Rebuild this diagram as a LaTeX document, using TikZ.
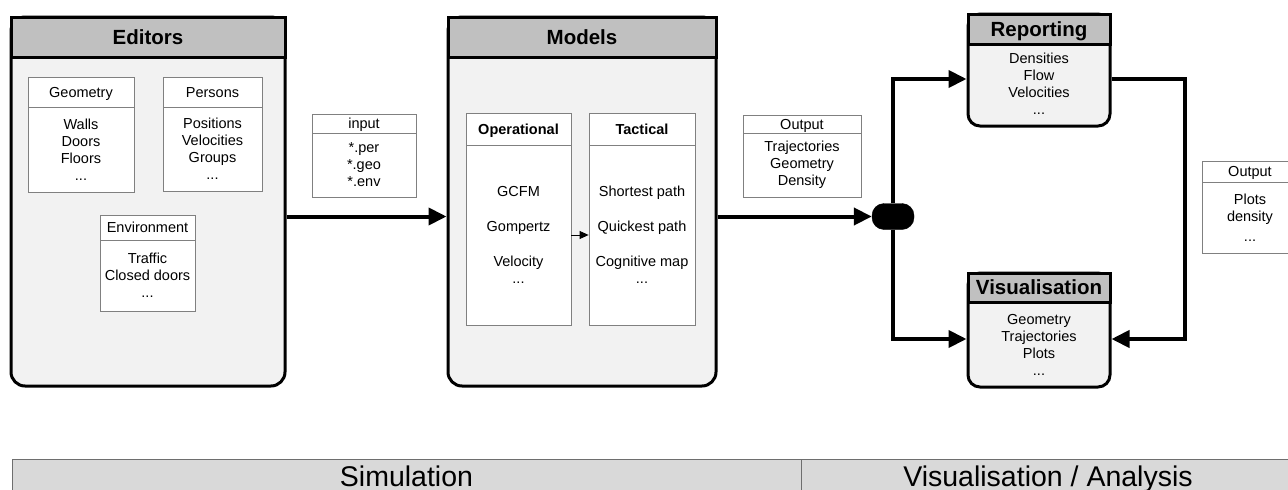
\documentclass[tikz,border=0pt]{standalone}
\usepackage{fontspec}
\setmainfont{Liberation Sans}
\usetikzlibrary{arrows.meta}
\definecolor{hdrfill}{HTML}{C0C0C0}
\definecolor{bodyfill}{HTML}{F2F2F2}
\definecolor{boxgray}{HTML}{808080}
\definecolor{barfill}{HTML}{D9D9D9}
\definecolor{barline}{HTML}{6E6E6E}
\tikzset{
  bigbox/.style={draw=black, line width=3pt, fill=bodyfill, rounded corners=14pt, inner sep=0pt},
  smallbig/.style={draw=black, line width=3pt, fill=bodyfill, rounded corners=12pt, inner sep=0pt},
  hdr/.style={draw=black, line width=3pt, fill=hdrfill, inner sep=0pt, text height=14pt, text depth=0pt, font=\fontsize{20.5}{24}\selectfont\bfseries},
  ptitle/.style={draw=boxgray, line width=0.8pt, fill=white, inner sep=0pt, text height=10pt, text depth=0pt, font=\fontsize{14.5}{17}\selectfont},
  btitle/.style={ptitle, font=\fontsize{14.5}{17}\selectfont\bfseries},
  pbody/.style={draw=boxgray, line width=0.8pt, fill=white, inner sep=0pt, align=center, font=\fontsize{14.5}{17}\selectfont},
  txt/.style={inner sep=0pt, align=center, font=\fontsize{14.5}{17}\selectfont},
  conn/.style={line width=4pt, -{Triangle[length=18pt,width=17pt]}},
  thinconn/.style={line width=0.8pt, -{Triangle[length=9pt,width=8pt]}},
  junction/.style={fill=black, draw=black, rounded corners=12pt, minimum width=42pt, minimum height=26pt, inner sep=0pt},
  barbox/.style={draw=barline, line width=1pt, fill=barfill, inner sep=0pt},
  bartext/.style={inner sep=0pt, font=\fontsize{28.5}{32}\selectfont},
}
\begin{document}
\begin{tikzpicture}[x=1pt, y=-1pt]
\useasboundingbox (0,0) rectangle (1288,490);
\clip (0,0) rectangle (1288,490);

% ---------- Editors ----------
\node[bigbox, minimum width=274pt, minimum height=369pt] (editors) at (148,201.5) {};
\node[hdr, minimum width=274pt, minimum height=40pt] (editorsH) at (148,37) {Editors};

\node[pbody, minimum width=106pt, minimum height=85pt] (geoB) at (81,149.5) {Walls\\Doors\\Floors\\...};
\node[ptitle, minimum width=106pt, minimum height=30pt] (geoH) at (81,92) {Geometry};

\node[pbody, minimum width=99pt, minimum height=84pt] (perB) at (212.5,149) {Positions\\Velocities\\Groups\\...};
\node[ptitle, minimum width=99pt, minimum height=30pt] (perH) at (212.5,92) {Persons};

\node[pbody, minimum width=95pt, minimum height=71pt] (envB) at (147.5,275.5) {Traffic\\Closed doors\\...};
\node[ptitle, minimum width=95pt, minimum height=25pt] (envH) at (147.5,227.5) {Environment};

% ---------- input ----------
\node[pbody, minimum width=104pt, minimum height=64pt] (inB) at (364,165) {*.per\\*.geo\\*.env};
\node[ptitle, minimum width=104pt, minimum height=19pt] (inH) at (364,123.5) {input};

% ---------- Models ----------
\node[bigbox, minimum width=268pt, minimum height=369pt] (models) at (582,201.5) {};
\node[hdr, minimum width=268pt, minimum height=40pt] (modelsH) at (582,37) {Models};

\node[pbody, minimum width=105pt, minimum height=180pt] (opB) at (518.5,235) {GCFM\\[18pt]Gompertz\\[18pt]Velocity\\...};
\node[btitle, minimum width=105pt, minimum height=32pt] (opH) at (518.5,129) {Operational};

\node[pbody, minimum width=106pt, minimum height=180pt] (taB) at (642,235) {Shortest path\\[18pt]Quickest path\\[18pt]Cognitive map\\...};
\node[btitle, minimum width=106pt, minimum height=32pt] (taH) at (642,129) {Tactical};

\draw[thinconn] (opB.east) -- (taB.west);

% ---------- Output (middle) ----------
\node[pbody, minimum width=118pt, minimum height=64pt] (outB) at (802,165) {Trajectories\\Geometry\\Density};
\node[ptitle, minimum width=118pt, minimum height=18pt] (outH) at (802,124) {Output};

% ---------- junction ----------
\node[junction] (junc) at (893,216.5) {};

% ---------- Reporting ----------
\node[smallbig, minimum width=142pt, minimum height=112pt] (rep) at (1039,70) {};
\node[hdr, minimum width=142pt, minimum height=30pt] (repH) at (1039,29) {Reporting};
\node[txt] (repT) at (1039,84) {Densities\\Flow\\Velocities\\...};

% ---------- Visualisation ----------
\node[smallbig, minimum width=142pt, minimum height=114pt] (vis) at (1039,330) {};
\node[hdr, minimum width=142pt, minimum height=29pt] (visH) at (1039,287.5) {Visualisation};
\node[txt] (visT) at (1039,345) {Geometry\\Trajectories\\Plots\\...};

% ---------- Output (right) ----------
\node[pbody, minimum width=96pt, minimum height=71pt] (out2B) at (1250,217.5) {Plots\\density\\[3pt]...};
\node[ptitle, minimum width=96pt, minimum height=21pt] (out2H) at (1250,171.5) {Output};

% ---------- connectors ----------
\draw[conn] ([yshift=-15pt]editors.east) -- ([yshift=-15pt]models.west);
\draw[conn] ([yshift=-15pt]models.east) -- (junc.west);
\draw[conn] (junc.north) |- ([yshift=-9pt]rep.west);
\draw[conn] (junc.south) |- ([yshift=-9pt]vis.west);
\draw[conn] ([yshift=-9pt]rep.east) -- ++(73,0) |- ([yshift=-9pt]vis.east);

% ---------- bottom bar ----------
\node[barbox, minimum width=789pt, minimum height=41pt] (sim) at (406.5,479.5) {};
\node[barbox, minimum width=494pt, minimum height=41pt] (ana) at (1048,479.5) {};
\node[bartext, anchor=base] (simT) at (406.5,486) {Simulation};
\node[bartext, anchor=base] (anaT) at (1048,486) {Visualisation / Analysis};
\end{tikzpicture}
\end{document}
